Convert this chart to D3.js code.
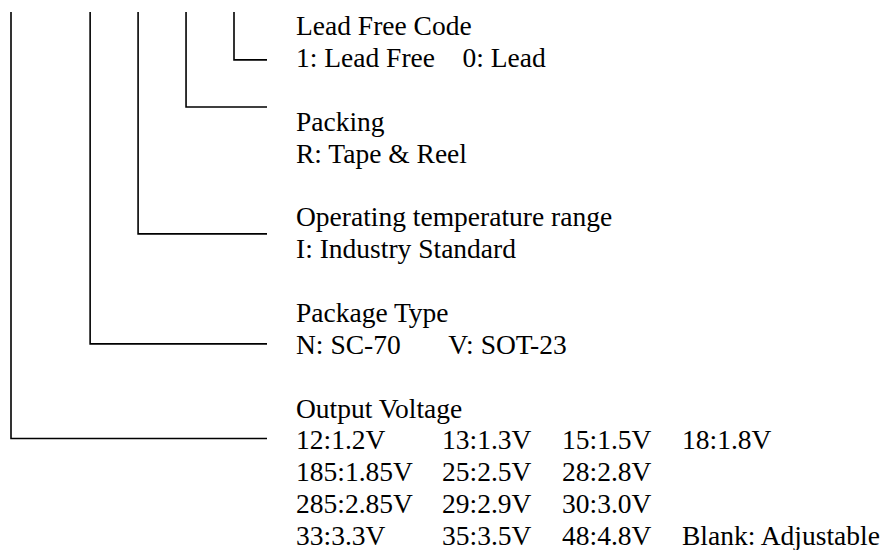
<!DOCTYPE html>
<html>
<head>
<meta charset="utf-8">
<script src="https://cdn.jsdelivr.net/npm/d3@7"></script>
<style>
body { margin: 0; background: #fff; }
text { font-family: "Liberation Serif", "Times New Roman", serif; font-size: 27.5px; fill: #000; white-space: pre; }
</style>
</head>
<body>
<svg id="chart" width="885" height="550"></svg>
<script>
// part number fields, innermost (rightmost) code first
var fields = ['Lead Free Code', 'Packing', 'Operating temperature range', 'Package Type', 'Output Voltage']
// how many characters each code takes in the part number
var codeWidth = [1, 1, 1, 1, 1.65]
// text row each block starts on, and the row its leader line sits at
var blockRow = [0, 3, 6, 9, 12]
var leaderRow = [0.78, 2.26, 6.24, 9.69, 12.66]
var options = [
    [['1: Lead Free    0: Lead']],
    [['R: Tape & Reel']],
    [['I: Industry Standard']],
    [['N: SC-70       V: SOT-23']],
    [['12:1.2V', '13:1.3V', '15:1.5V', '18:1.8V'],
     ['185:1.85V', '25:2.5V', '28:2.8V'],
     ['285:2.85V', '29:2.9V', '30:3.0V'],
     ['33:3.3V', '35:3.5V', '48:4.8V', 'Blank: Adjustable']]
]

var svg = d3.select('#chart')
var textLeft = 296
var leaderEnd = 267
var topY = 12
var tabStops = [0, 146, 266, 386]

var slots = Array.from(d3.cumsum(codeWidth), function (d) { return d - 1 })
var xScale = d3.scaleLinear().domain([0, d3.max(slots)]).range([234, 11])
var yScale = d3.scaleLinear().domain([0, 16]).range([35, 545])

var rows = fields.map(function (f, i) {
    return { name: f, slot: slots[i], row: blockRow[i], leader: leaderRow[i], opts: options[i] }
})

// leader lines
svg.selectAll('path.leader')
    .data(rows)
    .enter()
    .append('path')
    .attr('class', 'leader')
    .attr('d', function (d) {
        var x = xScale(d.slot), y = yScale(d.leader)
        return 'M' + x + ',' + topY + 'V' + y + 'H' + leaderEnd
    })
    .style('fill', 'none')
    .style('stroke', '#000')
    .style('stroke-width', 1.6)

var blocks = svg.selectAll('g.block')
    .data(rows)
    .enter()
    .append('g')
    .attr('class', 'block')

blocks.append('text')
    .attr('x', textLeft)
    .attr('y', function (d) { return yScale(d.row) })
    .text(function (d) { return d.name })

blocks.each(function (d) {
    var g = d3.select(this)
    d.opts.forEach(function (cells, r) {
        g.selectAll(null)
            .data(cells)
            .enter()
            .append('text')
            .attr('x', function (c, j) { return textLeft + tabStops[j] })
            .attr('y', yScale(d.row + 1 + r))
            .text(function (c) { return c })
    })
})
</script>
</body>
</html>
